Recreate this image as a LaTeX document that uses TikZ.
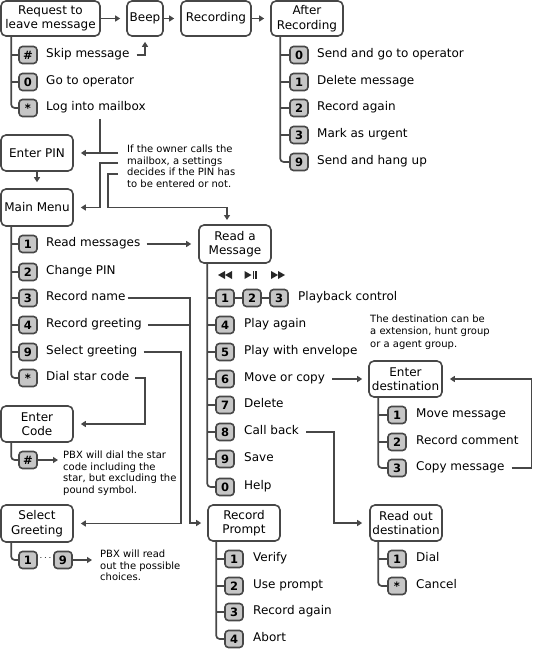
\documentclass[tikz,border=0pt]{standalone}
\usepackage{fontspec}
\setmainfont{DejaVu Sans}
\usetikzlibrary{arrows.meta}
\definecolor{lncol}{HTML}{474747}
\definecolor{keycol}{HTML}{C6C6C6}
\begin{document}
\begin{tikzpicture}[x=1pt,y=-1pt,
 wire/.style={draw=lncol, line width=1.7pt},
 arr/.style={wire, -{Triangle[length=5pt,width=6pt]}},
 box/.style={draw=lncol, line width=1.6pt, rounded corners=5pt, align=center, inner sep=0pt, font=\fontsize{12}{14.5}\selectfont},
 keyb/.style={draw=lncol, line width=1.6pt, fill=keycol, rounded corners=3.5pt, minimum width=18pt, minimum height=17pt, inner sep=0pt, font=\bfseries\fontsize{11.5}{12}\selectfont},
 lbl/.style={anchor=mid west, inner sep=0pt, font=\fontsize{12}{14}\selectfont},
 note/.style={anchor=north west, inner sep=0pt, align=left, font=\fontsize{10}{11.5}\selectfont},
 trunk/.style={wire, rounded corners=3.5pt},
 ]
\useasboundingbox (0,0) rectangle (533,650);

% ---------- top row
\node[box, minimum width=99pt, minimum height=35pt] (req) at (50.5,18.5) {Request to\\leave message};
\node[box, minimum width=36pt, minimum height=35pt] (beep) at (145,18.5) {Beep};
\node[box, minimum width=70pt, minimum height=35pt] (rec) at (216,18.5) {Recording};
\node[box, minimum width=72pt, minimum height=35pt] (after) at (307,18.5) {After\\Recording};
\draw[arr] (req.east) -- ([xshift=-6pt]beep.west);
\draw[arr] (beep.east) -- ([xshift=-6pt]rec.west);
\draw[arr] (rec.east) -- ([xshift=-6pt]after.west);

% request options
\coordinate (reqT) at ([xshift=11pt]req.south west);
\node[keyb] (rk1) at (28,55) {\#};
\node[keyb] (rk2) at (28,82) {0};
\node[keyb] (rk3) at (28,108) {*};
\node[lbl] (rl1) at (46,55) {Skip message};
\node[lbl] (rl2) at (46,82) {Go to operator};
\node[lbl] (rl3) at (46,108) {Log into mailbox};
\draw[trunk] (reqT) |- (rk3.west);
\draw[wire] (rk1.west -| reqT) -- (rk1.west);
\draw[wire] (rk2.west -| reqT) -- (rk2.west);
\draw[arr] ([xshift=7pt]rl1.mid east) -| ([yshift=-5pt]beep.south);

% after recording options
\coordinate (aftT) at ([xshift=10pt]after.south west);
\node[keyb] (ak1) at (299,55) {0};
\node[keyb] (ak2) at (299,82) {1};
\node[keyb] (ak3) at (299,108) {2};
\node[keyb] (ak4) at (299,135) {3};
\node[keyb] (ak5) at (299,162) {9};
\node[lbl] (al1) at (317,55) {Send and go to operator};
\node[lbl] (al2) at (317,82) {Delete message};
\node[lbl] (al3) at (317,108) {Record again};
\node[lbl] (al4) at (317,135) {Mark as urgent};
\node[lbl] (al5) at (317,162) {Send and hang up};
\draw[trunk] (aftT) |- (ak5.west);
\foreach \k in {ak1,ak2,ak3,ak4} \draw[wire] (\k.west -| aftT) -- (\k.west);

% ---------- PIN / main menu
\node[box, minimum width=72pt, minimum height=36pt] (pin) at (37,153) {Enter PIN};
\node[box, minimum width=72pt, minimum height=37pt] (main) at (37,207.5) {Main Menu};
\draw[arr] (pin.south) -- ([yshift=6pt]main.north);

\node[note] (n1txt) at (127,145) {If the owner calls the\\mailbox, a settings\\decides if the PIN has\\to be entered or not.};
\coordinate (n1) at (118,153);
\coordinate (n2) at (118,163);
\coordinate (n3) at (118,174);
\coordinate (logc) at (100,119);
\coordinate (v3) at (108,174);
\coordinate (rdin) at (227,220);
\draw[wire] (logc) -- (logc |- n1);
\draw[arr] (n1) -- ([xshift=7pt]pin.east);
\draw[arr] (n2) -- (n2 -| logc) |- ([xshift=7pt]main.east);
\draw[arr] (n3) -- (v3) |- (rdin |- main.east) -- (rdin);

% main menu options
\coordinate (mainT) at ([xshift=11pt]main.south west);
\node[keyb] (mk1) at (28,244) {1};
\node[keyb] (mk2) at (28,272) {2};
\node[keyb] (mk3) at (28,298) {3};
\node[keyb] (mk4) at (28,325) {4};
\node[keyb] (mk5) at (28,352) {9};
\node[keyb] (mk6) at (28,378) {*};
\node[lbl] (ml1) at (46,244) {Read messages};
\node[lbl] (ml2) at (46,272) {Change PIN};
\node[lbl] (ml3) at (46,298) {Record name};
\node[lbl] (ml4) at (46,325) {Record greeting};
\node[lbl] (ml5) at (46,352) {Select greeting};
\node[lbl] (ml6) at (46,378) {Dial star code};
\draw[trunk] (mainT) |- (mk6.west);
\foreach \k in {mk1,mk2,mk3,mk4,mk5} \draw[wire] (\k.west -| mainT) -- (\k.west);

% ---------- Read a message
\node[box, minimum width=72pt, minimum height=38pt] (read) at (235,244) {Read a\\Message};
\draw[arr] ([xshift=6pt]ml1.mid east) -- ([xshift=-7pt]read.west);

\coordinate (readT) at ([xshift=9pt]read.south west);
\node[keyb] (pk1) at (225,298) {1};
\node[keyb] (pk2) at (252,298) {2};
\node[keyb] (pk3) at (279,298) {3};
\node[lbl] (pl1) at (298,298) {Playback control};
\node[keyb] (pk4) at (225,325) {4};
\node[keyb] (pk5) at (225,352) {5};
\node[keyb] (pk6) at (225,379) {6};
\node[keyb] (pk7) at (225,405) {7};
\node[keyb] (pk8) at (225,432) {8};
\node[keyb] (pk9) at (225,459) {9};
\node[keyb] (pk0) at (225,487) {0};
\node[lbl] (pl4) at (244,325) {Play again};
\node[lbl] (pl5) at (244,352) {Play with envelope};
\node[lbl] (pl6) at (244,379) {Move or copy};
\node[lbl] (pl7) at (244,405) {Delete};
\node[lbl] (pl8) at (244,432) {Call back};
\node[lbl] (pl9) at (244,459) {Save};
\node[lbl] (pl0) at (244,487) {Help};
\draw[trunk] (readT) |- (pk0.west);
\foreach \k in {pk1,pk4,pk5,pk6,pk7,pk8,pk9} \draw[wire] (\k.west -| readT) -- (\k.west);
\draw[wire] (pk1.east) -- (pk2.west);
\draw[wire] (pk2.east) -- (pk3.west);

% playback icons
\fill[black!85] (218,275) -- (225,271) -- (225,279) -- cycle;
\fill[black!85] (225,275) -- (232,271) -- (232,279) -- cycle;
\fill[black!85] (244.5,271) -- (251.5,275) -- (244.5,279) -- cycle;
\fill[black!85] (252.5,271) rectangle (254,279);
\fill[black!85] (255.3,271) rectangle (256.8,279);
\fill[black!85] (271,271) -- (278,275) -- (271,279) -- cycle;
\fill[black!85] (278,271) -- (285,275) -- (278,279) -- cycle;

% ---------- Enter destination
\node[note, font=\fontsize{10}{12.5}\selectfont] (dnote) at (370,314.5) {The destination can be\\a extension, hunt group\\or a agent group.};
\node[box, minimum width=73pt, minimum height=36pt] (dest) at (405.5,379) {Enter\\destination};
\draw[arr] ([xshift=7pt]pl6.mid east) -- ([xshift=-6pt]dest.west);
\coordinate (destT) at ([xshift=10pt]dest.south west);
\node[keyb] (dk1) at (397,415) {1};
\node[keyb] (dk2) at (397,442) {2};
\node[keyb] (dk3) at (397,468) {3};
\node[lbl] (dl1) at (416,415) {Move message};
\node[lbl] (dl2) at (416,442) {Record comment};
\node[lbl] (dl3) at (416,468) {Copy message};
\draw[trunk] (destT) |- (dk3.west);
\foreach \k in {dk1,dk2} \draw[wire] (\k.west -| destT) -- (\k.west);
\coordinate (vx4) at (531.5,0);
\draw[arr] ([xshift=7pt]dl3.mid east) -- (dl3.mid east -| vx4) -- (vx4 |- dest.east) -- ([xshift=7pt]dest.east);

% ---------- Read out destination
\node[box, minimum width=72pt, minimum height=36pt] (readout) at (406,523) {Read out\\destination};
\coordinate (vx5) at (334,0);
\draw[arr] ([xshift=7pt]pl8.mid east) -- (pl8.mid east -| vx5) -- (vx5 |- readout.west) -- ([xshift=-7pt]readout.west);
\coordinate (roT) at ([xshift=9pt]readout.south west);
\node[keyb] (ok1) at (397,559) {1};
\node[keyb] (ok2) at (397,586) {*};
\node[lbl] (ol1) at (416,559) {Dial};
\node[lbl] (ol2) at (416,586) {Cancel};
\draw[trunk] (roT) |- (ok2.west);
\draw[wire] (ok1.west -| roT) -- (ok1.west);

% ---------- Record prompt
\node[box, minimum width=72pt, minimum height=36pt] (prompt) at (244,523) {Record\\Prompt};
\coordinate (vx1) at (190,0);
\draw[arr] ([xshift=2pt]ml3.mid east) -- (ml3.mid east -| vx1) -- (vx1 |- prompt.west) -- ([xshift=-6pt]prompt.west);
\draw[wire] ([xshift=6pt]ml4.mid east) -- (ml4.mid east -| vx1);
\coordinate (prT) at ([xshift=9pt]prompt.south west);
\node[keyb] (qk1) at (234,559) {1};
\node[keyb] (qk2) at (234,586) {2};
\node[keyb] (qk3) at (234,612) {3};
\node[keyb] (qk4) at (234,639) {4};
\node[lbl] (ql1) at (253,559) {Verify};
\node[lbl] (ql2) at (253,586) {Use prompt};
\node[lbl] (ql3) at (253,612) {Record again};
\node[lbl] (ql4) at (253,639) {Abort};
\draw[trunk] (prT) |- (qk4.west);
\foreach \k in {qk1,qk2,qk3} \draw[wire] (\k.west -| prT) -- (\k.west);

% ---------- Enter code
\node[box, minimum width=72pt, minimum height=36pt] (code) at (37,424) {Enter\\Code};
\coordinate (vx3) at (145,0);
\draw[arr] ([xshift=6pt]ml6.mid east) -- (ml6.mid east -| vx3) -- (vx3 |- code.east) -- ([xshift=7pt]code.east);
\coordinate (codeT) at ([xshift=11pt]code.south west);
\node[keyb] (ck1) at (28,460) {\#};
\draw[trunk] (codeT) |- (ck1.west);
\node[note] (cnote) at (63,451) {PBX will dial the star\\code including the\\star, but excluding the\\pound symbol.};
\coordinate (cka) at (58,460);
\draw[arr] (ck1.east) -- (cka);

% ---------- Select greeting
\node[box, minimum width=72pt, minimum height=37pt] (selg) at (37,523.5) {Select\\Greeting};
\coordinate (vx2) at (181,0);
\draw[arr] ([xshift=6pt]ml5.mid east) -- (ml5.mid east -| vx2) -- (vx2 |- selg.east) -- ([xshift=7pt]selg.east);
\coordinate (selT) at ([xshift=11pt]selg.south west);
\node[keyb] (sk1) at (28,560) {1};
\node[keyb] (sk9) at (63,560) {9};
\node[inner sep=0pt] (sdots) at (45.5,558) {$\cdots$};
\draw[trunk] (selT) |- (sk1.west);
\node[note] (snote) at (100,550) {PBX will read\\out the possible\\choices.};
\coordinate (ska) at (92,560);
\draw[arr] (sk9.east) -- (ska);
\end{tikzpicture}
\end{document}
